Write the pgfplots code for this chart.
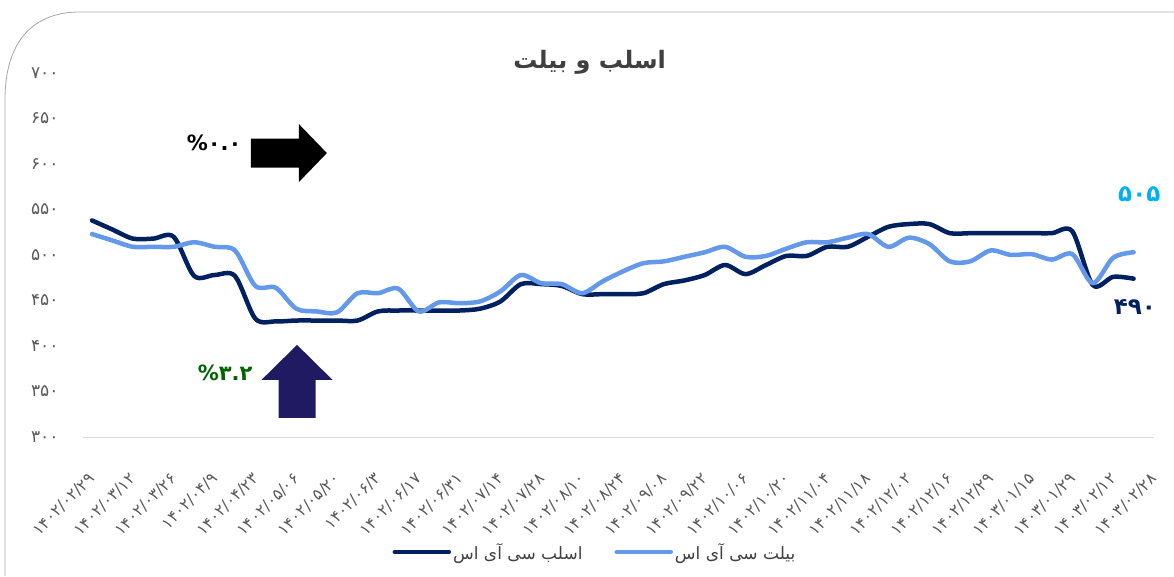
\documentclass[border=0pt]{standalone}
\usepackage{fontspec}
\usepackage{pgfplots}
\usepackage{pgfplotstable}
\pgfplotsset{compat=1.18}
\setmainfont{DejaVu Sans}
\newfontfamily\arabicfont[Script=Arabic]{DejaVu Sans}
\TeXXeTstate=1
\definecolor{darkser}{RGB}{0,32,96}
\definecolor{lightser}{RGB}{100,152,235}
\definecolor{ticktext}{RGB}{89,89,89}
\definecolor{legtext}{RGB}{64,64,64}
\definecolor{annotgreen}{RGB}{0,100,0}
\definecolor{arrowblue}{RGB}{31,26,98}
\definecolor{cyanlabel}{RGB}{0,176,240}

\pgfplotstableread{
x y
0 538
0.5 528
1 518
1.5 518
2 520
2.5 477
3 478
3.5 477
4 430
4.5 427
5 428
5.5 428
6 428
6.5 428
7 438
7.5 439
8 439
8.5 439
9 439
9.5 441
10 449
10.5 468
11 468
11.5 466
12 457
12.5 457
13 457
13.5 458
14 468
14.5 472
15 478
15.5 489
16 479
16.5 489
17 499
17.5 499
18 509
18.5 509
19 520
19.5 531
20 534
20.5 534
21 524
21.5 524
22 524
22.5 524
23 524
23.5 524
24 526
24.5 467
25 476
25.5 474
}\slabdata

\pgfplotstableread{
x y
0 523
0.5 516
1 509
1.5 509
2 509
2.5 514
3 509
3.5 505
4 466
4.5 464
5 441
5.5 438
6 437
6.5 458
7 458
7.5 463
8 438
8.5 448
9 447
9.5 449
10 460
10.5 478
11 469
11.5 468
12 458
12.5 471
13 482
13.5 491
14 493
14.5 498
15 503
15.5 509
16 498
16.5 499
17 507
17.5 514
18 514
18.5 519
19 523
19.5 509
20 519
20.5 512
21 493
21.5 493
22 505
22.5 500
23 501
23.5 495
24 501
24.5 469
25 497
25.5 503
}\billetdata

\begin{document}
\begin{tikzpicture}
\begin{axis}[
  at={(83pt,139pt)}, anchor=south west,
  scale only axis, width=1071pt, height=364pt,
  xmin=-0.22, xmax=26, ymin=300, ymax=700,
  clip=false,
  axis x line*=bottom, axis y line*=left,
  x axis line style={-, draw=black!15, line width=1pt},
  y axis line style={draw=none},
  major tick length=0pt,
  ytick={300,350,400,450,500,550,600,650,700},
  yticklabels={۳۰۰,۳۵۰,۴۰۰,۴۵۰,۵۰۰,۵۵۰,۶۰۰,۶۵۰,۷۰۰},
  yticklabel style={anchor=east, xshift=-21pt, font=\fontsize{17}{19}\arabicfont, text=ticktext},
  xtick={0,1,...,26},
  xticklabels={۱۴۰۲/۰۲/۲۹,۱۴۰۲/۰۳/۱۲,۱۴۰۲/۰۳/۲۶,۱۴۰۲/۰۴/۹,۱۴۰۲/۰۴/۲۳,۱۴۰۲/۰۵/۰۶,۱۴۰۲/۰۵/۲۰,۱۴۰۲/۰۶/۳,۱۴۰۲/۰۶/۱۷,۱۴۰۲/۰۶/۳۱,۱۴۰۲/۰۷/۱۴,۱۴۰۲/۰۷/۲۸,۱۴۰۲/۰۸/۱۰,۱۴۰۲/۰۸/۲۴,۱۴۰۲/۰۹/۰۸,۱۴۰۲/۰۹/۲۲,۱۴۰۲/۱۰/۰۶,۱۴۰۲/۱۰/۲۰,۱۴۰۲/۱۱/۰۴,۱۴۰۲/۱۱/۱۸,۱۴۰۲/۱۲/۰۲,۱۴۰۲/۱۲/۱۶,۱۴۰۲/۱۲/۲۹,۱۴۰۳/۰۱/۱۵,۱۴۰۳/۰۱/۲۹,۱۴۰۳/۰۲/۱۲,۱۴۰۳/۰۲/۲۸},
  xticklabel style={rotate=45, anchor=east, xshift=-24pt, yshift=-28pt, font=\fontsize{16}{18}\arabicfont, text=ticktext},
  title={\beginR اسلب و بیلت\endR},
  title style={at={(0.473,1.012)}, anchor=center, font=\fontsize{24}{28}\bfseries\arabicfont, text=legtext},
  legend columns=2,
  legend style={at={(0.478,-0.316)}, anchor=center, draw=none, fill=none,
    font=\fontsize{17}{19}\arabicfont, text=legtext,
    /tikz/every even column/.append style={column sep=30pt}},
  legend image code/.code={\draw[#1, line cap=round] (0pt,0pt) -- (54pt,0pt);},
]
\addplot[darkser, line width=4.5pt, smooth, line cap=round, line join=round] table[x=x,y=y]{\slabdata};
\addlegendentry{\beginR اسلب سی آی اس\endR}
\addplot[lightser, line width=4.5pt, smooth, line cap=round, line join=round] table[x=x,y=y]{\billetdata};
\addlegendentry{\beginR بیلت سی آی اس\endR}

% annotations
\fill[black] (axis cs:3.89,612) ++(0pt,-14.5pt) -- ++(48pt,0pt) -- ++(0pt,-14.5pt) -- ++(28pt,29pt) -- ++(-28pt,29pt) -- ++(0pt,-14.5pt) -- ++(-48pt,0pt) -- cycle;
\node[font=\fontsize{21}{24}\bfseries\arabicfont, text=black] at (axis cs:2.99,623) {\%۰.۰};
\fill[arrowblue] (axis cs:5.02,321) ++(-18.5pt,0pt) -- ++(0pt,38pt) -- ++(-17pt,0pt) -- ++(35.5pt,35pt) -- ++(35.5pt,-35pt) -- ++(-17pt,0pt) -- ++(0pt,-38pt) -- cycle;
\node[font=\fontsize{21}{24}\bfseries\arabicfont, text=annotgreen] at (axis cs:3.26,370) {\%۳.۲};
\node[font=\fontsize{23}{26}\bfseries\arabicfont, text=cyanlabel] at (axis cs:25.64,567) {۵۰۵};
\node[font=\fontsize{23}{26}\bfseries\arabicfont, text=darkser] at (axis cs:25.53,443) {۴۹۰};
\end{axis}
\draw[black!35, line width=0.8pt] (5pt,0pt) -- (5pt,476pt) .. controls (5pt,537pt) and (35pt,564pt) .. (80pt,564pt) -- (1174pt,564pt);
\pgfresetboundingbox
\path (0pt,0pt) rectangle (1174pt,576pt);
\end{tikzpicture}
\end{document}
